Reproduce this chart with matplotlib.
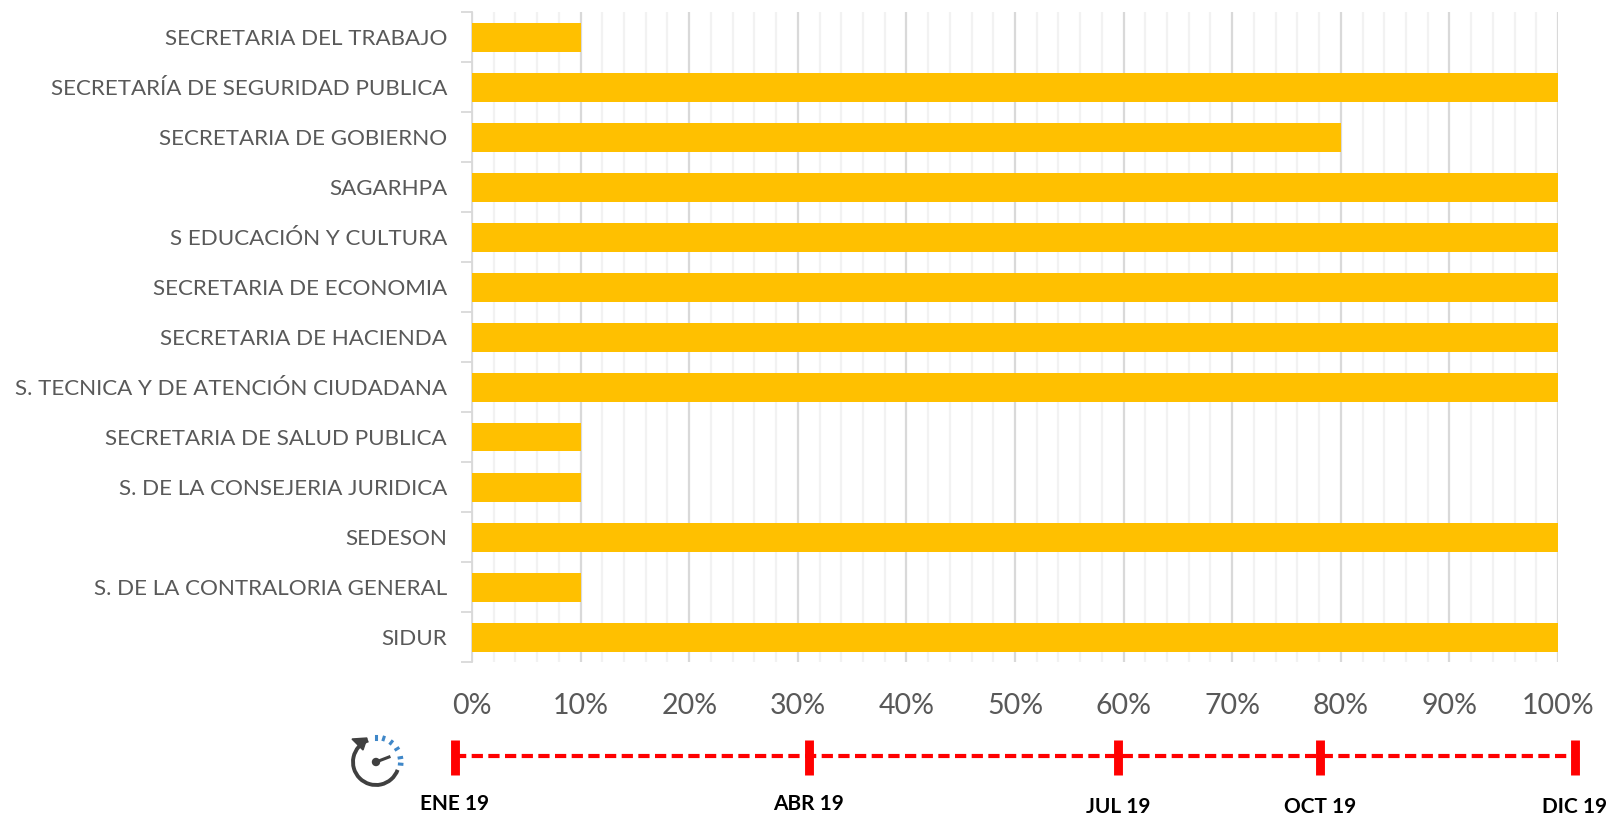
import numpy as np
import matplotlib
matplotlib.use("Agg")
import matplotlib.pyplot as plt
from matplotlib.patches import Arc, Polygon, Circle

categories = ["SECRETARIA DEL TRABAJO", "SECRETARÍA DE SEGURIDAD PUBLICA", "SECRETARIA DE GOBIERNO",
              "SAGARHPA", "S EDUCACIÓN Y CULTURA", "SECRETARIA DE ECONOMIA", "SECRETARIA DE HACIENDA",
              "S. TECNICA Y DE ATENCIÓN CIUDADANA", "SECRETARIA DE SALUD PUBLICA",
              "S. DE LA CONSEJERIA JURIDICA", "SEDESON", "S. DE LA CONTRALORIA GENERAL", "SIDUR"]
values = [10, 100, 80, 100, 100, 100, 100, 100, 10, 10, 100, 10, 100]
major_ticks = [0, 10, 20, 30, 40, 50, 60, 70, 80, 90, 100]
minor_ticks = [m for m in range(0, 101, 2) if m % 10]
time_labels = ["ENE 19", "ABR 19", "JUL 19", "OCT 19", "DIC 19"]
time_pos_px = [455, 809, 1118, 1320, 1575]
time_label_y_px = [804, 804, 807, 807, 807]

W, H = 1608, 816
plt.rcParams['font.family'] = ['Lato', 'DejaVu Sans']
fig = plt.figure(figsize=(W/100, H/100), dpi=100)
L, R, T, B = 472.0, 1558, 12, 662
ax = fig.add_axes([L/W, 1-B/H, (R-L)/W, (B-T)/H])
y = np.arange(len(categories))
ax.barh(y, values, height=29/50, color="#FFC000", zorder=3)
ax.set_xlim(0, 100)
ax.set_ylim(len(categories)-0.5, -0.5)
ax.set_xticks(major_ticks)
ax.set_xticklabels([f"{t}%" for t in major_ticks], fontsize=20.5, color="#595959")
ax.set_xticks(minor_ticks, minor=True)
ax.set_yticks(y)
ax.set_yticklabels(categories, fontsize=16.15, color="#595959")
ax.set_yticks(np.arange(len(categories)+1)-0.5, minor=True)
ax.grid(True, axis='x', which='major', color="#D9D9D9", lw=1.6, zorder=0)
ax.grid(True, axis='x', which='minor', color="#F2F2F2", lw=1.6, zorder=0)
ax.tick_params(axis='x', which='both', length=0, pad=22.3)
ax.tick_params(axis='y', which='major', length=0, pad=18)
ax.tick_params(axis='y', which='minor', length=8, color="#D9D9D9", width=1.3)
for s in ['top', 'right', 'bottom']:
    ax.spines[s].set_visible(False)
ax.spines['left'].set_color("#D9D9D9")
ax.spines['left'].set_linewidth(1.3)

# overlay in pixel coordinates for timeline
ov = fig.add_axes([0, 0, 1, 1])
ov.set_xlim(0, W); ov.set_ylim(H, 0); ov.axis('off'); ov.patch.set_alpha(0)
ov.plot([time_pos_px[0], time_pos_px[-1]], [756, 756], color="#FF0000", lw=3.0,
        dashes=(2.7, 1.3), zorder=2)
for x, lab, ly in zip(time_pos_px, time_labels, time_label_y_px):
    ov.plot([x, x], [740, 775], color="#FF0000", lw=6.4, solid_capstyle='butt', zorder=3)
    ov.text(x, ly, lab, ha='center', va='center', fontsize=15, fontweight='bold', color="#000000")

# clock icon
cx, cy = 376, 762
ov.add_patch(Arc((cx, cy), 46, 46, angle=0, theta1=20, theta2=250, color="#404040", lw=2.8))
ov.add_patch(Polygon([[352, 739], [367, 738], [363, 750]], closed=True, color="#404040"))
ov.add_patch(Circle((376, 762), 3.5, color="#404040"))
ov.plot([376, 389], [762, 757], color="#404040", lw=2.2)
for a in [-90, -72, -52, -32, -10, 5]:
    r = np.deg2rad(a)
    ov.plot([cx+23.5*np.cos(r), cx+26*np.cos(r)], [cy+23.5*np.sin(r), cy+26*np.sin(r)],
            color="#3F87C8", lw=2.2)
fig.savefig("out.png", dpi=100)
